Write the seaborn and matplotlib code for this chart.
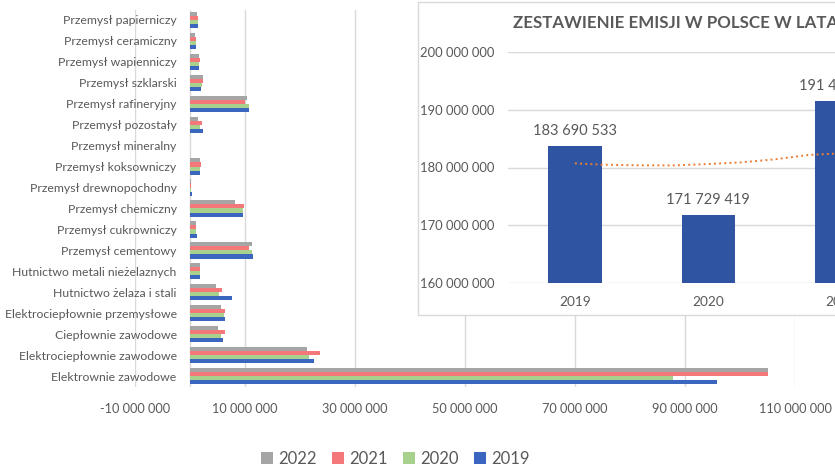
import matplotlib
matplotlib.use("Agg")
import matplotlib.pyplot as plt
from matplotlib.patches import Rectangle
from matplotlib.ticker import FuncFormatter
import seaborn as sns
import pandas as pd

sns.set_style("white")
plt.rcParams["font.family"] = ["Lato", "DejaVu Sans"]

# dane - emisje wg sektora (mln ton)
kategorie = [
    "Przemysł papierniczy", "Przemysł ceramiczny", "Przemysł wapienniczy",
    "Przemysł szklarski", "Przemysł rafineryjny", "Przemysł pozostały",
    "Przemysł mineralny", "Przemysł koksowniczy", "Przemysł drewnopochodny",
    "Przemysł chemiczny", "Przemysł cukrowniczy", "Przemysł cementowy",
    "Hutnictwo metali nieżelaznych", "Hutnictwo żelaza i stali",
    "Elektrociepłownie przemysłowe", "Ciepłownie zawodowe",
    "Elektrociepłownie zawodowe", "Elektrownie zawodowe",
]
lata = ["2022", "2021", "2020", "2019"]
emisja_2022 = [1.25, 0.95, 1.7, 2.3, 10.4, 1.5, 0, 1.8, 0.1, 8.2, 1.07, 11.3, 1.8, 4.8, 5.7, 5.1, 21.3, 105.0]
emisja_2021 = [1.4, 1.1, 1.8, 2.3, 10.0, 2.1, 0, 2.0, 0.15, 9.9, 1.07, 10.7, 1.9, 5.8, 6.4, 6.3, 23.7, 105.0]
emisja_2020 = [1.4, 1.05, 1.7, 2.1, 10.8, 1.9, 0, 1.8, 0.1, 9.7, 1.07, 11.2, 1.9, 5.3, 6.2, 5.6, 21.7, 87.9]
emisja_2019 = [1.5, 1.05, 1.7, 2.0, 10.8, 2.4, 0, 1.8, 0.4, 9.7, 1.25, 11.5, 1.9, 7.6, 6.3, 6.0, 22.5, 95.8]
kolory = ["#A5A5A5", "#F4777A", "#A9D18E", "#3A66C0"]

# dane do wstawki - suma emisji
lata_suma = ["2019", "2020", "2021"]
suma_emisji = [183690533, 171729419, 191408625]
trend_x = [0, 0.2, 0.5, 0.75, 1.0, 1.25, 1.5, 1.75, 2.0]
trend_y = [180.72, 180.49, 180.37, 180.37, 180.60, 180.89, 181.41, 182.16, 182.45]

SZARY = "#595959"
SIATKA = "#D9D9D9"
W, H = 835, 467


def format_spacja(v, pos=None):
    return f"{int(round(v)):,}".replace(",", " ")


df = pd.DataFrame({
    "kategoria": kategorie * 4,
    "rok": sum([[r] * len(kategorie) for r in lata], []),
    "wartosc": [v * 1e6 for v in emisja_2022 + emisja_2021 + emisja_2020 + emisja_2019],
})

fig = plt.figure(figsize=(W / 100, H / 100), dpi=100)

# wykres glowny
ax = fig.add_axes([135 / W, 1 - 386.5 / H, 660 / W, 377 / H])
sns.barplot(data=df, x="wartosc", y="kategoria", hue="rok", hue_order=lata,
            palette=kolory, saturation=1, width=0.78, orient="h", linewidth=0,
            ax=ax, zorder=3)
ax.set_xlim(-10e6, 110e6)
ax.set_xticks(range(-10_000_000, 110_000_001, 20_000_000))
ax.xaxis.set_major_formatter(FuncFormatter(format_spacja))
ax.grid(axis="x", color=SIATKA, lw=1, zorder=0)
ax.axvline(0, color=SIATKA, lw=1, zorder=1)
for s in ax.spines.values():
    s.set_visible(False)
ax.tick_params(axis="both", length=0, colors=SZARY, labelsize=8.8)
# etykiety kategorii koncza sie tuz przed osia zero (wchodza na obszar -10 mln)
ax.tick_params(axis="y", pad=-30)
ax.tick_params(axis="x", pad=12, labelsize=9.2)
ax.set_xlabel("")
ax.set_ylabel("")
ax.legend_.remove()
h, l = ax.get_legend_handles_labels()
fig.legend(h, l, loc="center", bbox_to_anchor=(395 / W, 1 - 459 / H), ncol=4,
           frameon=False, handlelength=0.75, handleheight=0.75, handletextpad=0.3,
           columnspacing=0.9, fontsize=12, labelcolor=SZARY)

# wstawka z suma emisji
ramka = Rectangle((418 / W, 1 - 315 / H), 430 / W, 313 / H, transform=fig.transFigure,
                  facecolor="white", edgecolor=SIATKA, lw=1, zorder=1)
fig.patches.append(ramka)
fig.text(513 / W, 1 - 23 / H, "ZESTAWIENIE EMISJI W POLSCE W LATACH 2019–2022",
         fontsize=12.2, fontweight="bold", color=SZARY, va="center", ha="left", zorder=3)

ax2 = fig.add_axes([508.3 / W, 1 - 283.3 / H, 533 / W, 231.6 / H], zorder=2)
ax2.patch.set_alpha(0)
sns.barplot(x=lata_suma, y=suma_emisji, color="#2F55A2", saturation=1, width=0.4,
            linewidth=0, ax=ax2, zorder=3)
ax2.plot(trend_x, [v * 1e6 for v in trend_y], ls=":", color="#ED7D31", lw=1.4, zorder=4)
ax2.set_xlim(-0.5, 3.5)
ax2.set_ylim(160e6, 200e6)
ax2.set_yticks(range(160_000_000, 200_000_001, 10_000_000))
ax2.yaxis.set_major_formatter(FuncFormatter(format_spacja))
ax2.grid(axis="y", color=SIATKA, lw=1, zorder=0)
for s in ax2.spines.values():
    s.set_visible(False)
ax2.tick_params(axis="both", length=0, colors=SZARY, labelsize=9.4)
ax2.tick_params(axis="y", pad=10)
ax2.tick_params(axis="x", pad=9, labelsize=9.8)
ax2.bar_label(ax2.containers[0], labels=[format_spacja(v) for v in suma_emisji],
              padding=6, color=SZARY, fontsize=10.5)

fig.savefig("out.png", dpi=100)
